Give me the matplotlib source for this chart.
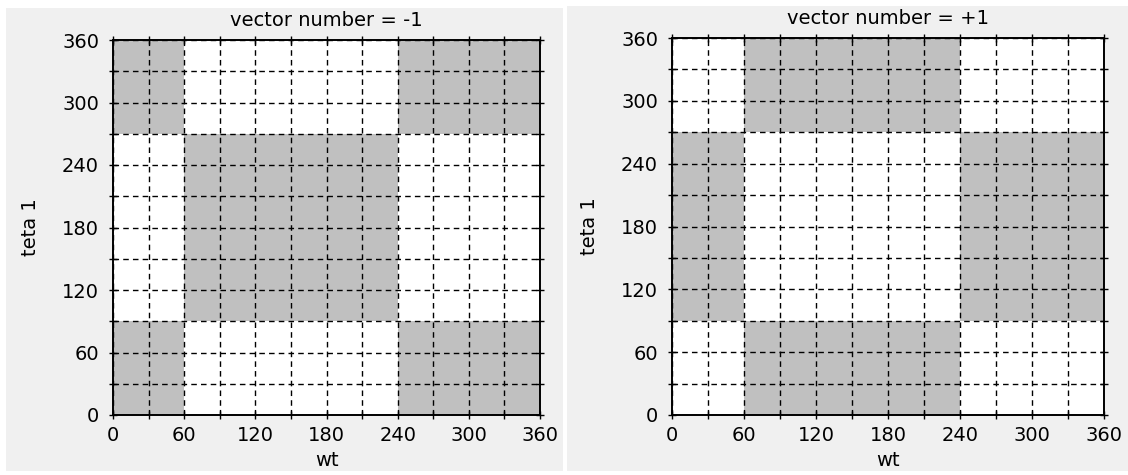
import numpy as np
import matplotlib
matplotlib.use("Agg")
import matplotlib.pyplot as plt
from matplotlib.patches import Rectangle

# bord des zones (degres)
wt_bords = [0, 60, 240, 360]
teta_bords = [0, 90, 270, 360]

# 1 = zone grise, lignes = teta (du bas vers le haut), colonnes = wt
zones_moins1 = np.array([[1, 0, 1],
                         [0, 1, 0],
                         [1, 0, 1]])
zones_plus1 = np.array([[0, 1, 0],
                        [1, 0, 1],
                        [0, 1, 0]])

titres = ["vector number = -1", "vector number = +1"]
graduations = [0, 60, 120, 180, 240, 300, 360]
graduations_mineures = [30, 90, 150, 210, 270, 330]

GRIS = "#c0c0c0"
FOND = "#f0f0f0"

plt.rcParams["font.family"] = ["DejaVu Sans"]
plt.rcParams["font.size"] = 14

fig = plt.figure(figsize=(11.28, 4.75), dpi=100, facecolor="white")
W, H = 1128, 475

# panneaux gris clair derriere chaque graphe
for x0, y0, x1, y1 in [(6, 8, 563, 471), (567, 6, 1128, 471)]:
    fig.add_artist(Rectangle((x0 / W, 1 - y1 / H), (x1 - x0) / W, (y1 - y0) / H,
                             transform=fig.transFigure, facecolor=FOND,
                             edgecolor="none", zorder=-5))

positions = [(113, 40, 540, 415), (672, 38, 1104, 415)]

for pos, zones, titre in zip(positions, [zones_moins1, zones_plus1], titres):
    x0, y0, x1, y1 = pos
    ax = fig.add_axes([x0 / W, 1 - y1 / H, (x1 - x0) / W, (y1 - y0) / H])
    ax.set_zorder(2)
    ax.set_facecolor("white")
    ax.pcolormesh(wt_bords, teta_bords, zones,
                  cmap=matplotlib.colors.ListedColormap(["white", GRIS]),
                  vmin=0, vmax=1, zorder=1)
    ax.set_xlim(0, 360)
    ax.set_ylim(0, 360)
    ax.set_xticks(graduations)
    ax.set_yticks(graduations)
    ax.set_xticks(graduations_mineures, minor=True)
    ax.set_yticks(graduations_mineures, minor=True)
    ax.grid(True, which="both", color="black", linestyle=(0, (4, 3)), linewidth=1.0, zorder=2)
    ax.set_axisbelow(False)
    ax.tick_params(which="both", direction="inout", length=6, width=1.0,
                   top=True, right=True, colors="black")
    ax.tick_params(axis="x", which="major", pad=5)
    ax.tick_params(axis="y", which="major", pad=7)
    for s in ax.spines.values():
        s.set_linewidth(1.4)
        s.set_zorder(3)
    ax.set_title(titre, pad=10, fontsize=14)
    ax.set_xlabel("wt", labelpad=4)
    ax.set_ylabel("teta 1", labelpad=16)

fig.savefig("out.png", dpi=100, facecolor="white")
